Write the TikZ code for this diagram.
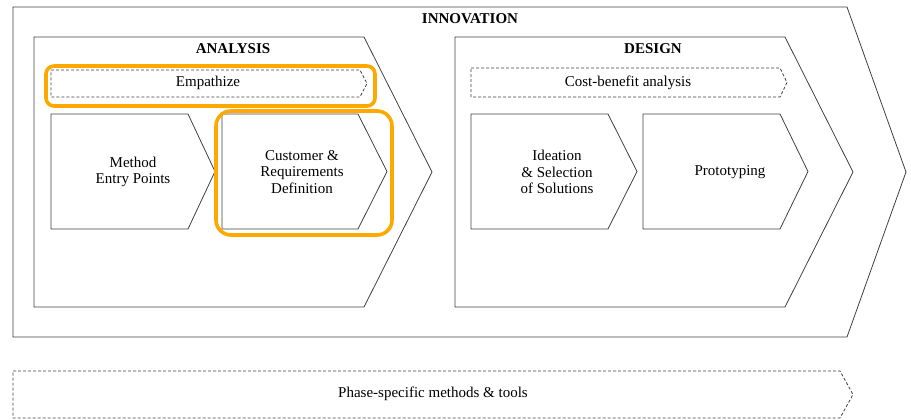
\documentclass[tikz,border=0pt]{standalone}
\usepackage{fontspec}
\setmainfont{Liberation Serif}
\definecolor{hiorange}{RGB}{255,168,0}
% chevron: [style]{left}{top}{corner}{tip}{bottom}
\newcommand{\Chevron}[6][]{\draw[#1] (#2,#3) -- (#4,#3) -- (#5,{(#3+#6)/2}) -- (#4,#6) -- (#2,#6) -- cycle;}

\begin{document}
\begin{tikzpicture}[x=1pt, y=-1pt,
  outline/.style = {draw=black!75, line width=0.8pt},
  dashline/.style = {outline, dash pattern=on 3pt off 2pt},
  hilite/.style = {draw=hiorange, line width=3.6pt},
  txt/.style = {align=center, font=\fontsize{15}{16.5}\selectfont},
  title/.style = {txt, font=\fontsize{15}{16.5}\selectfont\bfseries}]

\useasboundingbox (0,0) rectangle (911,420);

\Chevron[outline]{13}{7}{847}{906}{337}
\Chevron[outline]{34}{37}{364}{432}{307}
\Chevron[outline]{455}{37}{785}{853}{307}

\Chevron[dashline]{51}{70}{360}{367}{97}
\Chevron[dashline]{471}{68}{780}{787}{97}
\Chevron[dashline]{13}{371}{840}{853}{418}

\Chevron[outline]{51}{114}{188}{215}{229}
\Chevron[outline]{222}{114}{358}{387}{229}
\Chevron[outline]{471}{114}{608}{637}{229}
\Chevron[outline]{643}{114}{780}{808}{229}

\node[title] (innov) at (470,19) {INNOVATION};
\node[title] (analysis) at (233,49) {ANALYSIS};
\node[title] (design) at (653,49) {DESIGN};

\node[txt] (empathize) at (208,83) {Empathize};
\node[txt] (cost) at (628,83) {Cost-benefit analysis};
\node[txt] (entry) at (133,172) {Method\\Entry Points};
\node[txt] (customer) at (302,172) {Customer \&\\Requirements\\Definition};
\node[txt] (ideation) at (557,172) {Ideation\\\& Selection\\of Solutions};
\node[txt] (proto) at (730,172) {Prototyping};
\node[txt] (phase) at (433,394) {Phase-specific methods \& tools};

%% highlights
\draw[hilite, rounded corners=8pt] (46,66) rectangle (375,106);
\draw[hilite, rounded corners=15pt] (216,111) rectangle (392,235);

\end{tikzpicture}
\end{document}
